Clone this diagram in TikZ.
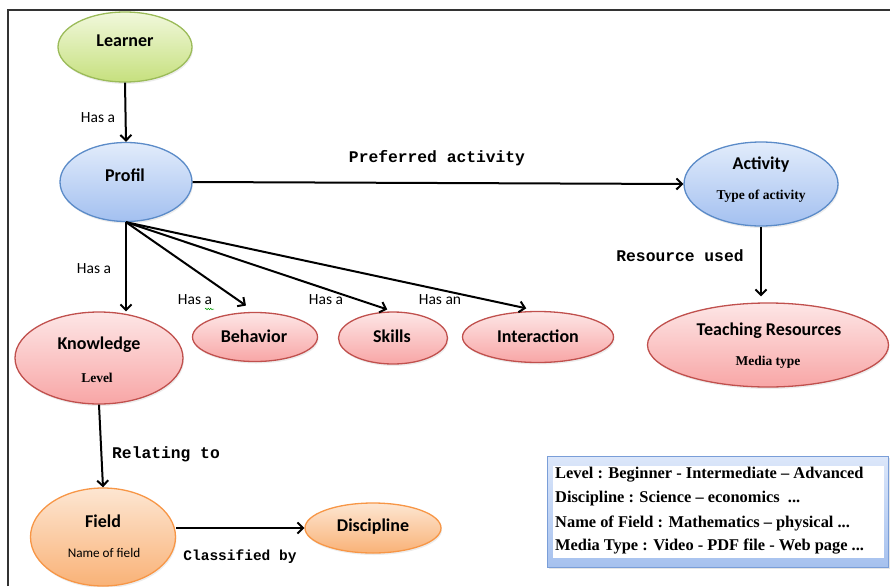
\documentclass[tikz,border=0pt]{standalone}
\usepackage{fontspec}
\setmainfont{Liberation Serif}
\newfontfamily\calib{Carlito}
\newfontfamily\monob{Liberation Mono}
\usetikzlibrary{shapes.geometric,arrows.meta,shadows,decorations.pathmorphing}

\definecolor{gTop}{HTML}{F1F8DC}
\definecolor{gBot}{HTML}{C6E07E}
\definecolor{gLine}{HTML}{9BBB59}
\definecolor{bTop}{HTML}{E2ECFB}
\definecolor{bBot}{HTML}{A3C0F0}
\definecolor{bLine}{HTML}{5B8BC8}
\definecolor{rTop}{HTML}{FDE6E6}
\definecolor{rBot}{HTML}{F8A6A6}
\definecolor{rLine}{HTML}{C0504D}
\definecolor{oTop}{HTML}{FDE6D2}
\definecolor{oBot}{HTML}{F9B277}
\definecolor{oLine}{HTML}{F79646}
\definecolor{kTop}{HTML}{DCE7FA}
\definecolor{kBot}{HTML}{A6C1EE}
\definecolor{kLine}{HTML}{7A9ED8}

\tikzset{
  oval/.style={ellipse, inner sep=0pt, line width=1.3pt,
    drop shadow={opacity=0.15, shadow xshift=1pt, shadow yshift=-2pt}},
  greenov/.style={oval, draw=gLine, top color=gTop, bottom color=gBot},
  blueov/.style={oval, draw=bLine, top color=bTop, bottom color=bBot},
  redov/.style={oval, draw=rLine, top color=rTop, bottom color=rBot},
  orangeov/.style={oval, draw=oLine, top color=oTop, bottom color=oBot},
  title/.style={font=\calib\bfseries\fontsize{18}{20}\selectfont, inner sep=0pt},
  subtxt/.style={font=\bfseries\fontsize{13.5}{15}\selectfont, inner sep=0pt},
  subsans/.style={font=\calib\fontsize{13.2}{15}\selectfont, inner sep=0pt},
  rel/.style={font=\calib\fontsize{15.5}{17}\selectfont, inner sep=0pt},
  monolbl/.style={font=\monob\bfseries\fontsize{16.3}{18}\selectfont, inner sep=0pt},
  legendtxt/.style={font=\bfseries\fontsize{16.4}{18}\selectfont, inner sep=0pt, anchor=west},
  arr/.style={-{Straight Barb[length=5.5pt,width=11pt]}, line width=2pt, black}
}

\begin{document}
\begin{tikzpicture}[x=1pt, y=-1pt]
\useasboundingbox (0,0) rectangle (890,586);

% outer frame (top and left edges)
\draw[line width=1.3pt, black!80] (8,586) -- (8,10) -- (890,10);

% ellipses
\node[greenov, minimum width=134pt, minimum height=70pt] (learner) at (125,47) {};
\node[blueov, minimum width=132pt, minimum height=79pt] (profil) at (126,182) {};
\node[blueov, minimum width=154pt, minimum height=84pt] (act) at (761,184) {};
\node[redov, minimum width=241pt, minimum height=84pt] (teach) at (768,345) {};
\node[redov, minimum width=168pt, minimum height=92pt] (know) at (99,358) {};
\node[redov, minimum width=125pt, minimum height=49pt] (beh) at (255,337) {};
\node[redov, minimum width=109pt, minimum height=52pt] (skills) at (393,338) {};
\node[redov, minimum width=151pt, minimum height=51pt] (inter) at (538,337) {};
\node[orangeov, minimum width=145pt, minimum height=98pt] (field) at (103,537) {};
\node[orangeov, minimum width=136pt, minimum height=50pt] (disc) at (373,528) {};

% node texts
\node[title] (learner-t) at (125,41) {Learner};
\node[title] (profil-t) at (125,175) {Profil};
\node[title] (act-t) at (761,165) {Activity};
\node[subtxt] (act-s) at (761,196) {Type of activity};
\node[title] (teach-t) at (769,331) {Teaching Resources};
\node[subtxt] (teach-s) at (768,362) {Media type};
\node[title] (know-t) at (99,345) {Knowledge};
\node[subtxt] (know-s) at (97,378) {Level};
\node[title] (beh-t) at (254,336) {Behavior};
\node[title] (skills-t) at (392,336) {Skills};
\node[title] (inter-t) at (538,336) {Interaction};
\node[title] (field-t) at (103,521) {Field};
\node[subsans] (field-s) at (104,553) {Name of field};
\node[title] (disc-t) at (373,527) {Discipline};

% connectors
\draw[arr] (learner.south) -- (profil.north);
\draw[arr] (profil.east) -- (act.west);
\draw[arr] (profil.south) -- (profil.south |- know.north);
\draw[arr, shorten >=11pt] (profil.south) -- (beh.north);
\draw[arr, shorten >=6pt] (profil.south) -- (skills.north);
\draw[arr, shorten >=12pt] (profil.south) -- (inter.north);
\draw[arr, shorten >=6pt] (act.south) -- (act.south |- teach.north);
\draw[arr] (know.south) -- (field.north);
\draw[arr] (field.east |- disc.west) -- (disc.west);

% connector labels
\node[rel] (l1) at (98,118) {Has a};
\node[rel] (l2) at (94,269) {Has a};
\node[rel] (l3) at (195,300) {Has a};
\draw[green!60!black, line width=0.5pt, decorate,
  decoration={snake, amplitude=0.8pt, segment length=2.5pt}] (205,309) -- (214,309);
\node[rel] (l4) at (326,300) {Has a};
\node[rel] (l5) at (440,300) {Has an};
\node[monolbl] (m1) at (437,158) {Preferred activity};
\node[monolbl] (m2) at (680,256) {Resource used};
\node[monolbl] (m3) at (166,454) {Relating to};
\node[monolbl, font=\monob\bfseries\fontsize{14.5}{16}\selectfont] (m4) at (240,557) {Classified by};

% legend box
\node[draw=kLine, line width=1pt, top color=kTop, bottom color=kBot,
  minimum width=341pt, minimum height=111pt, inner sep=0pt,
  drop shadow={opacity=0.2, shadow xshift=1.5pt, shadow yshift=-2pt}] (legend) at (717.5,511.5) {};
\node[fill=white, minimum width=331pt, minimum height=92pt, inner sep=0pt] (legin) at (718.5,512) {};
\node[legendtxt] (lg1) at (555,475) {Level : Beginner - Intermediate -- Advanced};
\node[legendtxt] (lg2) at (555,499) {Discipline : Science -- economics \ ...};
\node[legendtxt] (lg3) at (555,523) {Name of Field : Mathematics -- physical ...};
\node[legendtxt] (lg4) at (555,547) {Media Type : Video - PDF file - Web page ...};
\end{tikzpicture}
\end{document}
